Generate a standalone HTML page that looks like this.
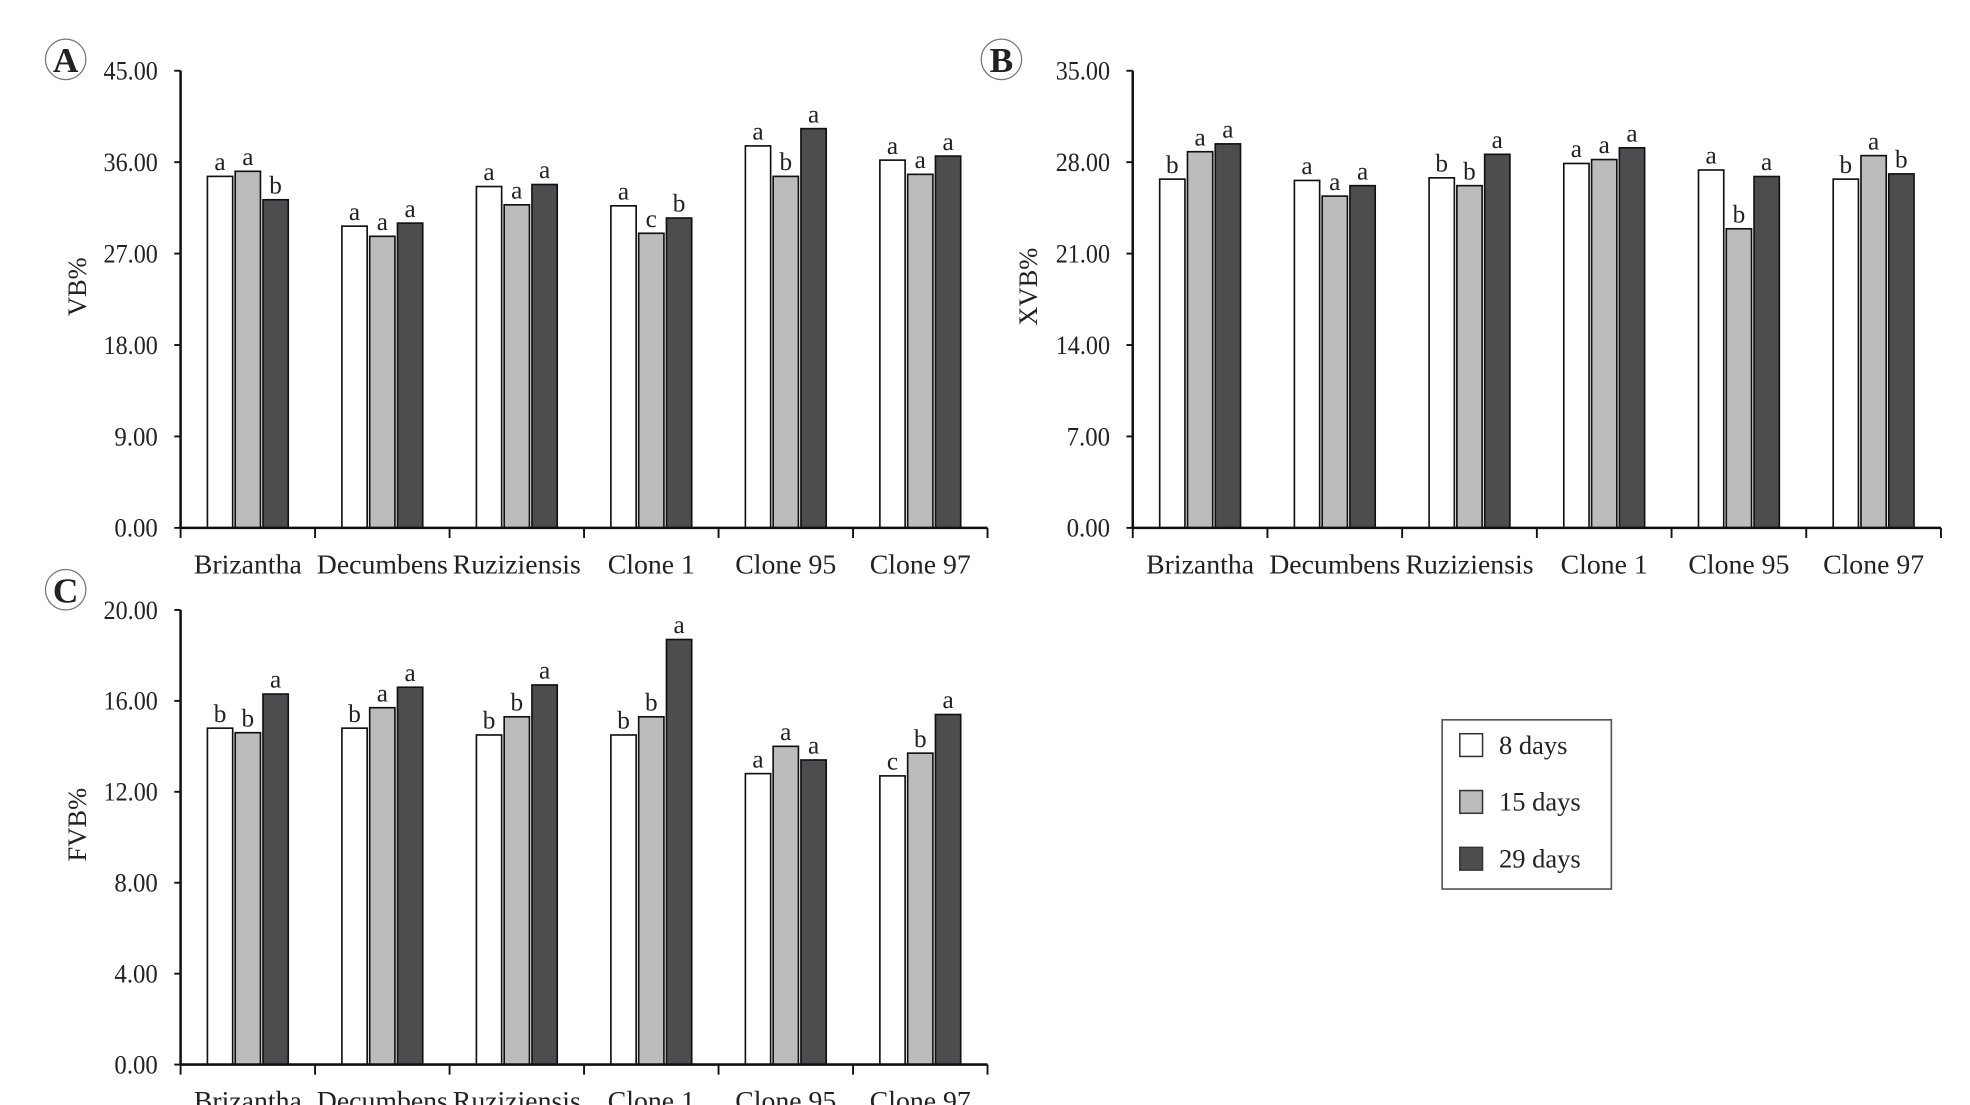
<!DOCTYPE html>
<html><head><meta charset="utf-8">
<style>
html,body{margin:0;padding:0;background:#fff;}
svg{display:block;}
text{font-family:"Liberation Serif",serif;fill:#222;}
</style></head>
<body>
<svg id="fig" width="1970" height="1105" viewBox="0 0 1560 875" xmlns="http://www.w3.org/2000/svg"></svg>
<script>
const categories = ["Brizantha","Decumbens","Ruziziensis","Clone 1","Clone 95","Clone 97"];
const seriesNames = ["8 days","15 days","29 days"];
const vbDay8 = [34.6,29.7,33.6,31.7,37.6,36.2];
const vbDay15 = [35.1,28.7,31.8,29.0,34.6,34.8];
const vbDay29 = [32.3,30.0,33.8,30.5,39.3,36.6];
const vbLetters = [["a","a","b"],["a","a","a"],["a","a","a"],["a","c","b"],["a","b","a"],["a","a","a"]];
const vbTicks = ["0.00","9.00","18.00","27.00","36.00","45.00"];
const xvbDay8 = [26.7,26.6,26.8,27.9,27.4,26.7];
const xvbDay15 = [28.8,25.4,26.2,28.2,22.9,28.5];
const xvbDay29 = [29.4,26.2,28.6,29.1,26.9,27.1];
const xvbLetters = [["b","a","a"],["a","a","a"],["b","b","a"],["a","a","a"],["a","b","a"],["b","a","b"]];
const xvbTicks = ["0.00","7.00","14.00","21.00","28.00","35.00"];
const fvbDay8 = [14.8,14.8,14.5,14.5,12.8,12.7];
const fvbDay15 = [14.6,15.7,15.3,15.3,14.0,13.7];
const fvbDay29 = [16.3,16.6,16.7,18.7,13.4,15.4];
const fvbLetters = [["b","b","a"],["b","a","a"],["b","b","a"],["b","b","a"],["a","a","a"],["c","b","a"]];
const fvbTicks = ["0.00","4.00","8.00","12.00","16.00","20.00"];

const fills = ["#ffffff","#bcbcbc","#4d4d4f"];
const NS = "http://www.w3.org/2000/svg";
const svg = document.getElementById("fig");
function mk(tag, attrs, parent){
  const e = document.createElementNS(NS, tag);
  for (const k in attrs) e.setAttribute(k, attrs[k]);
  (parent||svg).appendChild(e);
  return e;
}
function panel(id, letter, lx, ly, x0, x1, yTop, yBot, ticks, series, letters, title, titleX){
  const g = mk("g", {});
  
  
  const maxV = parseFloat(ticks[ticks.length-1]);
  const yS = v => yBot - v / maxV * (yBot - yTop);
  const gw = (x1 - x0) / categories.length;
  const xS = i => x0 + gw * (i + 0.5);
  const c = mk("circle", {cx:lx, cy:ly, r:16, fill:"none", stroke:"#777", "stroke-width":1}, g);
  
  
  const lt = mk("text", {x:lx, y:ly+10, "text-anchor":"middle", "font-size":28, "font-weight":"bold"}, g);
  lt.textContent = letter;
  
  
  ticks.forEach(t => {
    const y = yS(parseFloat(t));
    mk("line", {x1:x0-5, x2:x0, y1:y, y2:y, stroke:"#111", "stroke-width":1.5}, g);
    const tx = mk("text", {x:x0-18, y:y+7, "text-anchor":"end", "font-size":21, textLength: t.length*8.6, lengthAdjust:"spacingAndGlyphs"}, g);
    tx.textContent = t;
    
    
  });
  categories.forEach((cat, i) => {
    series.forEach((arr, s) => {
      const cx = xS(i) + (s - 1) * 22;
      const y = yS(arr[i]);
      const r = mk("rect", {x:cx-10, y:y, width:20, height:yBot-y, fill:fills[s], stroke:"#111", "stroke-width":1.3}, g);
      
      
      const lb = mk("text", {x:cx, y:y-5, "text-anchor":"middle", "font-size":20}, g);
      lb.textContent = letters[i][s];
      
      
    });
    const cl = mk("text", {x:xS(i), y:yBot+36, "text-anchor":"middle", "font-size":22}, g);
    cl.textContent = cat;
    
    
  });
  mk("line", {x1:x0, x2:x0, y1:yTop, y2:yBot, stroke:"#111", "stroke-width":2}, g);
  mk("line", {x1:x0, x2:x1, y1:yBot, y2:yBot, stroke:"#111", "stroke-width":2}, g);
  for (let i = 0; i <= categories.length; i++){
    const x = x0 + gw * i;
    mk("line", {x1:x, x2:x, y1:yBot, y2:yBot+8, stroke:"#111", "stroke-width":1.5}, g);
  }
  const yc = (yTop + yBot) / 2 - 10;
  const tt = mk("text", {x:titleX, y:yc, "text-anchor":"middle", "font-size":21, transform:"rotate(-90 "+titleX+" "+yc+")"}, g);
  tt.textContent = title;
  
  
}
panel("a","A",52,47,143,782,56,418,vbTicks,[vbDay8,vbDay15,vbDay29],vbLetters,"VB%",68);
panel("b","B",793,47,897,1537,56,418,xvbTicks,[xvbDay8,xvbDay15,xvbDay29],xvbLetters,"XVB%",821);
panel("c","C",52,467,143,782,483,843,fvbTicks,[fvbDay8,fvbDay15,fvbDay29],fvbLetters,"FVB%",68);

const lg = mk("g", {});


mk("rect", {x:1142, y:570, width:134, height:134, fill:"#fff", stroke:"#555", "stroke-width":1.3}, lg);
seriesNames.forEach((n, s) => {
  const y = 590 + s * 45;
  const sq = mk("rect", {x:1156, y:y-9, width:18, height:18, fill:fills[s], stroke:"#333", "stroke-width":1.2}, lg);
  
  
  const t = mk("text", {x:1187, y:y+7, "font-size":21}, lg);
  t.textContent = n;
  
  
});
</script>
</body></html>
